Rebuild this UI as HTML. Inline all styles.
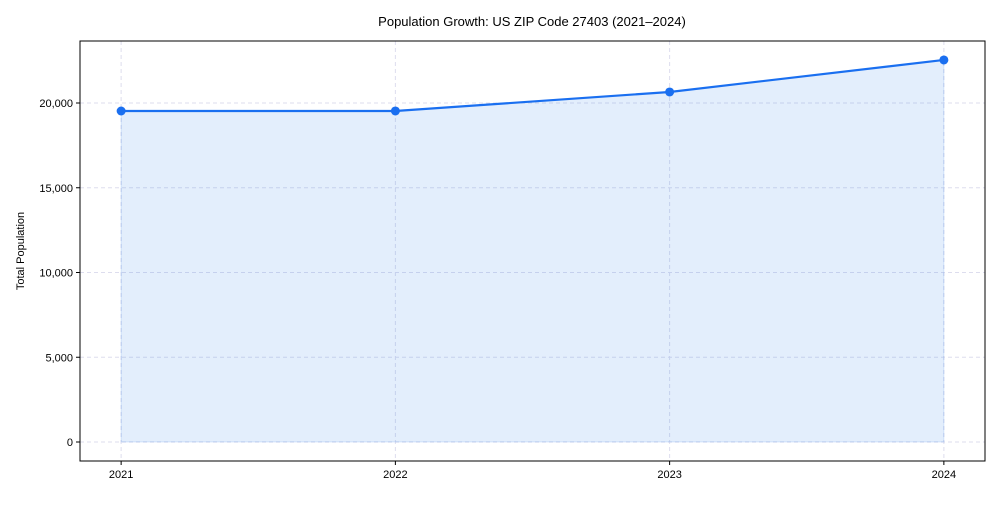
<!DOCTYPE html>
<html><head><meta charset="utf-8"><style>
body{margin:0;background:#fff;font-family:"Liberation Sans",Arial,sans-serif}
svg text{font-family:"Liberation Sans",Arial,sans-serif;fill:#000}
</style></head><body>
<svg id="chart" width="1000" height="500">
<text x="532" y="26" text-anchor="middle" font-size="13">Population Growth: US ZIP Code 27403 (2021–2024)</text>
<text transform="translate(24,251) rotate(-90)" text-anchor="middle" font-size="11">Total Population</text>
<g id="grid"></g><g id="area"></g><g id="marks"></g><g id="ticks"></g>
<rect x="80" y="41" width="905" height="420" fill="none" stroke="#000" stroke-width="1"/>
</svg>
<script>
const years = ["2021","2022","2023","2024"];
const population = [19528, 19530, 20650, 22540];
const yTicks = [0, 5000, 10000, 15000, 20000];
const yTickLabels = ["0","5,000","10,000","15,000","20,000"];

const L=80,R=985,T=41,B=461;
const xMin=-0.15,xMax=3.15,yMin=-1121,yMax=23658;
const X=i=>L+(i-xMin)/(xMax-xMin)*(R-L);
const Y=v=>B-(v-yMin)/(yMax-yMin)*(B-T);
const ns="http://www.w3.org/2000/svg";
function mk(tag,attrs,parent){const e=document.createElementNS(ns,tag);for(const k in attrs)e.setAttribute(k,attrs[k]);document.getElementById(parent).appendChild(e);return e;}

yTicks.forEach((v,i)=>{
  const g=mk('line',{x1:L,x2:R,y1:Y(v),y2:Y(v),stroke:'#dde',"stroke-dasharray":'4,3'},'grid');
  
  
  const t=mk('line',{x1:L-4,x2:L,y1:Y(v),y2:Y(v),stroke:'#000'},'ticks');
  
  
  const tx=mk('text',{x:L-7,y:Y(v)+4,"text-anchor":'end',"font-size":'11'},'ticks');
  tx.textContent=yTickLabels[i];
  
  
});
years.forEach((yr,i)=>{
  const g=mk('line',{x1:X(i),x2:X(i),y1:T,y2:B,stroke:'#dde',"stroke-dasharray":'4,3'},'grid');
  
  
  const t=mk('line',{x1:X(i),x2:X(i),y1:B,y2:B+4,stroke:'#000'},'ticks');
  
  
  const tx=mk('text',{x:X(i),y:B+17,"text-anchor":'middle',"font-size":'11'},'ticks');
  tx.textContent=yr;
  
  
});
let pts=population.map((v,i)=>X(i)+','+Y(v)).join(' ');
const area=mk('polygon',{points:X(0)+','+Y(0)+' '+pts+' '+X(years.length-1)+','+Y(0),fill:'rgba(26,115,232,0.12)',stroke:'rgba(26,115,232,0.15)'},'area');


const line=mk('polyline',{points:pts,fill:'none',stroke:'#1a6ff0',"stroke-width":'2.2'},'marks');


population.forEach((v,i)=>{
  const c=mk('circle',{cx:X(i),cy:Y(v),r:4.5,fill:'#1a6ff0'},'marks');
  
  
});
</script>
</body></html>
